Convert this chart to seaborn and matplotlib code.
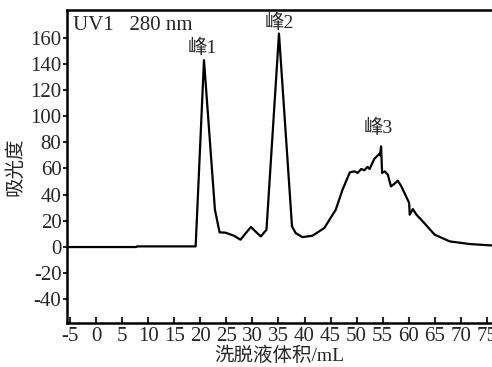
import numpy as np
import pandas as pd
import matplotlib
matplotlib.use("Agg")
import matplotlib.pyplot as plt
import seaborn as sns

# ---- data ----
volume = [-5.6, 7.7, 7.8, 19.1, 20.7, 22.8, 23.7, 24.8, 26.5, 27.7, 29.7, 31.6,
          32.7, 35.1, 37.6, 38.3, 39.6, 41.5, 43.8, 46.0, 47.3, 48.7, 49.6, 50.2,
          50.9, 51.5, 52.1, 52.5, 53.4, 54.4, 54.5, 54.7, 54.9, 55.4, 56.0, 56.6,
          57.3, 57.9, 58.6, 59.5, 60.1, 60.2, 60.8, 61.5, 62.7, 65.0, 67.9, 71.7, 76.0]
absorb = [0, 0, 0.5, 0.5, 142.7, 28.5, 11.2, 11.0, 8.6, 5.6, 15.3, 8.1,
          13.2, 163.0, 15.8, 10.7, 7.6, 8.6, 14.5, 28.5, 43.8, 57.0, 57.8, 56.6,
          59.6, 58.6, 61.2, 59.6, 67.3, 71.3, 70.0, 76.9, 56.6, 57.8, 55.3, 46.3,
          48.4, 50.7, 46.3, 38.7, 33.6, 24.7, 29.0, 24.7, 19.6, 9.4, 4.3, 2.3, 1.2]

peak_names = ["峰1", "峰2", "峰3"]
peak_label_x = [20.4, 35.2, 54.2]
peak_label_y = [152, 171.5, 91]

x_ticks = list(range(-5, 80, 5))
y_ticks = list(range(-40, 180, 20))

df = pd.DataFrame({"vol": volume, "abs": absorb})

# ---- style ----
sns.set_style("ticks")
plt.rcParams["font.family"] = ["Liberation Serif", "Noto Sans CJK SC"]
plt.rcParams["axes.unicode_minus"] = False

fig = plt.figure(figsize=(4.92, 3.67), dpi=100)
ax = fig.add_axes([67 / 492, 1 - 323 / 367, 1 - 67 / 492, 313 / 367])

sns.lineplot(data=df, x="vol", y="abs", sort=False, estimator=None,
             color="black", linewidth=1.6, ax=ax)

ax.set_xlim(-5.6, 76)
ax.set_ylim(-58, 181)
ax.set_xticks(x_ticks)
ax.set_yticks(y_ticks)
ax.tick_params(axis="x", direction="in", length=4, width=1.5, labelsize=15, pad=3)
ax.tick_params(axis="y", direction="out", length=3, width=1.5, labelsize=15, pad=1)

for side in ["left", "bottom", "top"]:
    ax.spines[side].set_linewidth(1.8)
    ax.spines[side].set_color("black")
ax.spines["right"].set_visible(False)

ax.set_xlabel("洗脱液体积/mL", fontsize=14, labelpad=0)
ax.set_ylabel("吸光度", fontsize=14, labelpad=4)

for name, px, py in zip(peak_names, peak_label_x, peak_label_y):
    ax.text(px, py, name, fontsize=14, ha="center", va="center")

ax.text(0.013, 0.952, "UV1   280 nm", transform=ax.transAxes,
        fontsize=15, ha="left", va="center")

fig.savefig("out.png", dpi=100)
